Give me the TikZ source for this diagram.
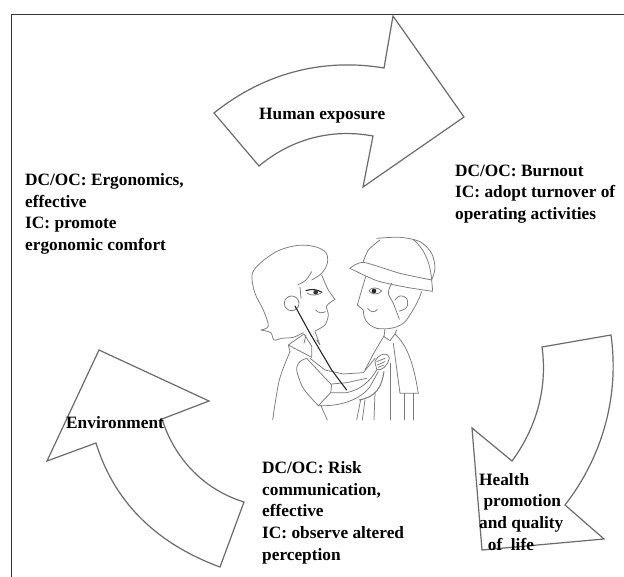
\documentclass[tikz,border=0pt]{standalone}
\usepackage{fontspec}
\setmainfont{Liberation Serif}
\tikzset{
  frameline/.style={draw=black!80,line width=0.9pt},
  bigarrow/.style={draw=black!58,line width=1.2pt,line join=miter,fill=white},
  lab/.style={font=\bfseries\fontsize{17.3}{21.6}\selectfont,align=left,anchor=north west,inner sep=0pt,text=black},
  sk/.style={draw=black!52,line width=0.75pt,line cap=round,line join=round},
  skd/.style={draw=black!85,line width=1.1pt,line cap=round},
}
\begin{document}
\begin{tikzpicture}[x=1pt,y=-1pt]
\useasboundingbox (0,0) rectangle (624,577);
\fill[white] (0,0) rectangle (624,577);
\draw[frameline] (11,577) -- (11,14) -- (624,14);
% arrows
\draw[bigarrow] (214,113) .. controls (265,72) and (325,58) .. (384,68) -- (393,16) -- (464,117) -- (363,187) -- (373,136) .. controls (330,128) and (290,140) .. (259,166) -- cycle;
\draw[bigarrow] (542,347) -- (611,335) .. controls (620,400) and (600,460) .. (565,505) -- (604,539) -- (482,550) -- (472,428) -- (512,461) .. controls (535,430) and (548,390) .. (542,347) -- cycle;
\draw[bigarrow] (99,350) -- (209,401) -- (162,419) .. controls (175,460) and (205,490) .. (244,502) -- (220,567) .. controls (160,545) and (115,505) .. (96,443) -- (47,461) -- cycle;
% figures
\begin{scope}[shift={(200,230)},x=0.3333pt,y=-0.3333pt]
 % doctor hair
 \draw[sk] plot[smooth,tension=0.55] coordinates {(293,165) (318,150) (335,125)};
 \draw[sk] plot[smooth,tension=0.55] coordinates {(335,150) (365,130) (382,100) (378,68) (345,50) (295,46) (235,62) (180,100) (156,135) (165,190) (190,240) (205,288) (183,300)};
 \draw[sk] plot[smooth,tension=0.55] coordinates {(183,300) (212,308) (222,330) (245,325) (280,322) (310,308)};
 \draw[sk] (275,220) circle [radius=22];
 % doctor face
 \draw[sk] plot[smooth,tension=0.5] coordinates {(365,135) (385,180) (405,208)};
 \draw[sk] plot[smooth,tension=0.5] coordinates {(405,208) (380,228) (385,255) (375,285) (345,303)};
 \draw[sk] (303,205) -- (300,170);
 \draw[skd] (318,182) .. controls (335,176) and (350,178) .. (366,187);
 \fill[black!80] (347,187) circle [radius=7];
 \draw[sk] (322,190) .. controls (335,197) and (350,197) .. (362,190);
 \draw[sk] (347,240) .. controls (355,250) and (368,250) .. (376,245);
 % doctor body
 \draw[sk] plot[smooth,tension=0.5] coordinates {(218,570) (238,450) (270,365)};
 \draw[sk] (265,345) -- (312,312) -- (335,348) -- (335,382) -- (265,345) -- (270,365);
 \draw[sk] (318,315) -- (312,340);
 \draw[sk] (345,305) -- (360,345) -- (350,330);
 \draw[sk] plot[smooth,tension=0.5] coordinates {(320,385) (300,395) (290,420) (310,475) (355,527)};
 \draw[sk] (320,385) -- (395,465) -- (392,488) -- (355,527);
 \draw[sk] (330,385) -- (375,420) -- (430,432) -- (490,428) -- (525,385);
 \draw[sk] (395,462) -- (440,458) -- (500,445);
 \draw[sk] (392,488) -- (440,488) .. controls (480,480) and (510,455) .. (530,420);
 \draw[sk] (355,527) .. controls (420,530) and (480,510) .. (510,470) -- (535,425);
 \draw[sk] (362,525) -- (382,570);
 % stethoscope
 \draw[skd] (285,228) -- (330,310) -- (395,420) -- (440,480);
 \draw[sk,line width=1pt] (552,425) .. controls (545,470) and (530,500) .. (478,510);
 % hand
 \draw[sk] (525,395) .. controls (535,370) and (565,365) .. (568,385) .. controls (565,405) and (545,425) .. (530,418) -- cycle;
 \draw[sk] (530,395) -- (555,385) (532,405) -- (555,395) (535,412) -- (552,405);
 % helmet
 \draw[sk] plot[smooth,tension=0.5] coordinates {(490,95) (505,60) (540,30)};
 \draw[sk] plot[smooth,tension=0.5] coordinates {(530,25) (600,22) (660,35) (695,70) (705,115) (695,150)};
 \draw[sk] (695,150) -- (698,182);
 \draw[sk] (640,28) .. controls (670,55) and (690,90) .. (695,150);
 \draw[sk] plot[smooth,tension=0.4] coordinates {(450,115) (490,97) (600,130) (695,150)};
 \draw[sk] plot[smooth,tension=0.4] coordinates {(450,115) (530,152) (620,172) (698,184)};
 % patient face
 \draw[sk] (497,140) -- (472,225) -- (490,240) .. controls (490,265) and (500,285) .. (530,295);
 \draw[sk] (530,295) .. controls (560,300) and (600,295) .. (620,270) .. controls (640,240) and (655,215) .. (665,185);
 \draw[sk] plot[smooth,tension=0.6] coordinates {(575,160) (565,190) (580,220) (598,268)};
 \draw[sk] plot[smooth,tension=0.7] coordinates {(585,210) (600,198) (620,205) (620,232) (598,243)};
 \draw[sk] (507,182) .. controls (515,170) and (535,172) .. (545,183) .. controls (535,195) and (515,195) .. (507,182);
 \fill[black!85] (522,183) circle [radius=7];
 \draw[sk] (503,235) .. controls (512,248) and (525,248) .. (532,238);
 % patient body
 \draw[sk] (555,298) -- (552,320) -- (570,332) -- (585,312) -- (590,300);
 \draw[sk] (552,318) -- (520,372) -- (495,420);
 \draw[sk] (585,312) .. controls (620,345) and (640,395) .. (655,490);
 \draw[sk] (580,340) -- (600,490) -- (655,490);
 \draw[sk] (572,400) -- (572,570) (612,490) -- (612,570) (640,490) -- (640,570);
 \draw[sk] (525,490) -- (522,570) (482,510) -- (470,570) (495,510) -- (487,570);
\end{scope}
% labels
\node[lab] (exposure) at (259,107.5) {Human exposure};
\node[lab] (burnout) at (455,164.5) {DC/OC: Burnout\\IC: adopt turnover of\\operating activities};
\node[lab] (ergo) at (25,173.5) {DC/OC: Ergonomics,\\effective\\IC: promote\\ergonomic comfort};
\node[lab] (risk) at (262,461.5) {DC/OC: Risk\\communication,\\effective\\IC: observe altered\\perception};
\node[lab] (env) at (66,416.5) {Environment};
\node[lab] (health) at (479,473) {Health\\\ promotion\\and quality\\\ \ of\ \ life};
\end{tikzpicture}
\end{document}
